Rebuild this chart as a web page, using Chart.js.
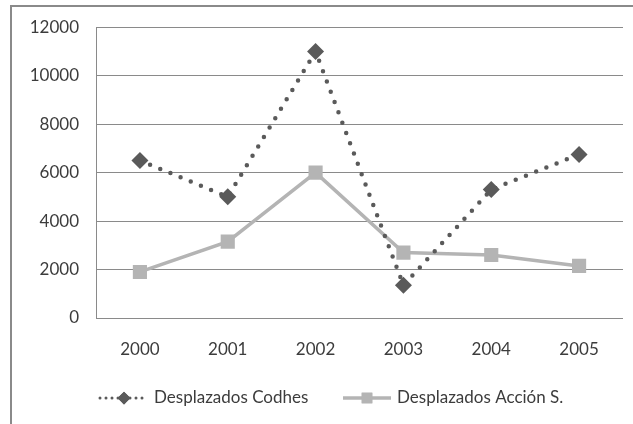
<!DOCTYPE html>
<html lang="es">
<head>
<meta charset="UTF-8" />
<title>Desplazados</title>
<style>
  html, body { margin: 0; padding: 0; background: #fff; overflow: hidden; }
  #frame {
    position: absolute;
    left: 10px; top: 5px;
    width: 640px; height: 440px;
    border: 2px solid #8a8a8a;
    box-sizing: border-box;
  }
  #wrap {
    position: absolute;
    left: 0; top: 0;
    width: 633px; height: 424px;
  }
</style>
</head>
<body>
<div id="frame"></div>
<div id="wrap"><canvas id="chart"></canvas></div>
<script src="https://cdn.jsdelivr.net/npm/chart.js"></script>
<script>
const years = ['2000', '2001', '2002', '2003', '2004', '2005'];
const codhes = [6500, 5000, 11000, 1350, 5300, 6750];
const accion = [1900, 3150, 6000, 2700, 2600, 2150];
const seriesNames = ['Desplazados Codhes', 'Desplazados Acción S.'];

const textColor = '#3c3c3c';
const fontFamily = 'Lato, "Open Sans", sans-serif';

// legend with a short line and the marker in the middle, like the original
const lineLegend = {
  id: 'lineLegend',
  afterDraw(chart) {
    const ctx = chart.ctx;
    const y = 398;
    const starts = [100, 343];
    chart.data.datasets.forEach((ds, i) => {
      const x0 = starts[i];
      const x1 = x0 + 48;
      const dotted = (ds.borderDash || []).length > 0;
      ctx.save();
      ctx.strokeStyle = ds.borderColor;
      ctx.lineWidth = dotted ? 3 : ds.borderWidth;
      ctx.lineCap = ds.borderCapStyle || 'butt';
      ctx.setLineDash(dotted ? [0, 6] : []);
      ctx.beginPath();
      ctx.moveTo(x0, y);
      ctx.lineTo(x1, y);
      ctx.stroke();
      ctx.setLineDash([]);
      ctx.fillStyle = ds.pointBackgroundColor;
      ctx.beginPath();
      Chart.helpers.drawPointLegend(ctx, {
        pointStyle: ds.pointStyle, rotation: 0, borderWidth: 0,
        radius: ds.pointRadius * 0.75
      }, (x0 + x1) / 2, y);
      ctx.fill();
      ctx.fillStyle = textColor;
      ctx.font = '17px ' + fontFamily;
      ctx.textBaseline = 'middle';
      ctx.textAlign = 'left';
      ctx.fillText(ds.label, x1 + 6, y);
      ctx.restore();
    });
  }
};

new Chart(document.getElementById('chart'), {
  type: 'line',
  data: {
    labels: years,
    datasets: [
      {
        label: seriesNames[0],
        data: codhes,
        borderColor: '#5a5a5a',
        borderWidth: 4.5,
        borderDash: [0, 11],
        borderCapStyle: 'round',
        pointStyle: 'rectRot',
        pointRadius: 8.5,
        pointBackgroundColor: '#5a5a5a',
        pointBorderWidth: 0,
        tension: 0
      },
      {
        label: seriesNames[1],
        data: accion,
        borderColor: '#b4b4b4',
        borderWidth: 3.5,
        pointStyle: 'rect',
        pointRadius: 10,
        pointBackgroundColor: '#b4b4b4',
        pointBorderWidth: 0,
        tension: 0
      }
    ]
  },
  options: {
    responsive: true,
    maintainAspectRatio: false,
    animation: false,
    layout: { padding: { top: 20, right: 8, left: 0, bottom: 0 } },
    plugins: {
      legend: { display: false },
      tooltip: { enabled: false }
    },
    scales: {
      x: {
        offset: true,
        grid: { display: false, drawTicks: false },
        border: { display: false },
        ticks: { color: textColor, font: { family: fontFamily, size: 17 }, padding: 21 },
        afterFit(scale) { scale.height = 106; }
      },
      y: {
        min: 0,
        max: 12000,
        grid: { color: '#8a8a8a', lineWidth: 1, drawTicks: false },
        border: { display: true, color: '#8a8a8a', width: 1 },
        ticks: {
          stepSize: 2000,
          color: textColor,
          font: { family: fontFamily, size: 17 },
          padding: 17,
          callback: v => String(v)
        },
        afterFit(scale) { scale.width = 96; }
      }
    }
  },
  plugins: [lineLegend]
});
</script>
</body>
</html>
